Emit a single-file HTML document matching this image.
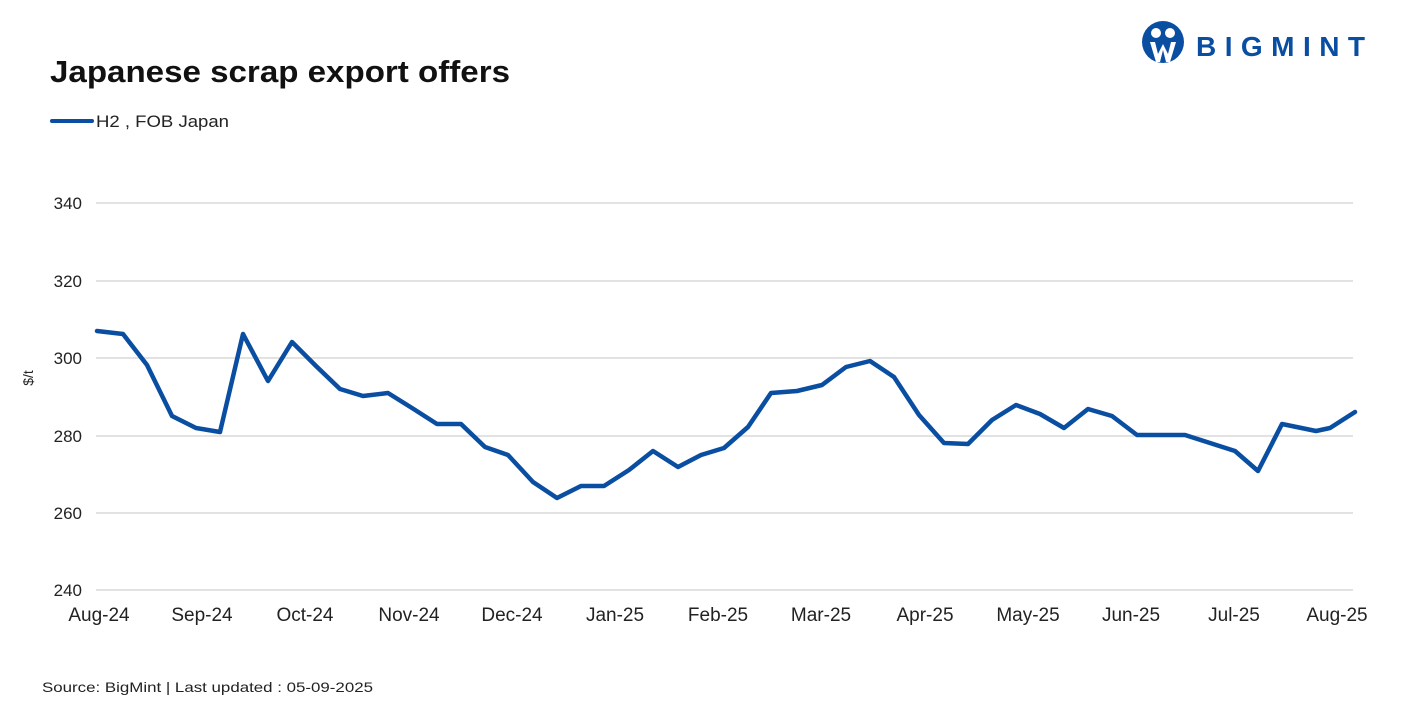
<!DOCTYPE html>
<html><head><meta charset="utf-8"><style>
body{margin:0;background:#fff;}
svg{display:block;font-family:"Liberation Sans",sans-serif;}
</style></head><body>
<svg width="1417" height="708" viewBox="0 0 1417 708">
<text x="50" y="82" font-size="31" font-weight="bold" fill="#111" textLength="460" lengthAdjust="spacingAndGlyphs">Japanese scrap export offers</text>
<line x1="52" y1="121" x2="92" y2="121" stroke="#0a4ea2" stroke-width="4" stroke-linecap="round"/>
<text x="96" y="127" font-size="17" fill="#222" textLength="133" lengthAdjust="spacingAndGlyphs">H2 , FOB Japan</text>
<g stroke="#d9d9d9" stroke-width="1.5">
<line x1="96" y1="203" x2="1353" y2="203"/>
<line x1="96" y1="281" x2="1353" y2="281"/>
<line x1="96" y1="358" x2="1353" y2="358"/>
<line x1="96" y1="436" x2="1353" y2="436"/>
<line x1="96" y1="513" x2="1353" y2="513"/>
<line x1="96" y1="590" x2="1353" y2="590"/>
</g>
<g font-size="17" fill="#222" text-anchor="end">
<text x="82" y="209">340</text><text x="82" y="287">320</text><text x="82" y="364">300</text>
<text x="82" y="442">280</text><text x="82" y="519">260</text><text x="82" y="596">240</text>
</g>
<text transform="translate(33,378) rotate(-90)" font-size="14" fill="#222" text-anchor="middle">$/t</text>
<g font-size="19" fill="#222" text-anchor="middle">
<text x="99" y="621">Aug-24</text><text x="202" y="621">Sep-24</text><text x="305" y="621">Oct-24</text>
<text x="409" y="621">Nov-24</text><text x="512" y="621">Dec-24</text><text x="615" y="621">Jan-25</text>
<text x="718" y="621">Feb-25</text><text x="821" y="621">Mar-25</text><text x="925" y="621">Apr-25</text>
<text x="1028" y="621">May-25</text><text x="1131" y="621">Jun-25</text><text x="1234" y="621">Jul-25</text>
<text x="1337" y="621">Aug-25</text>
</g>
<polyline fill="none" stroke="#0a4ea2" stroke-width="4.5" stroke-linejoin="round" stroke-linecap="round" points="97,331 123,334 147,365 172,416 196,428 220,432 243,334 268,381 292,342 316,366 340,389 363,396 388,393 412,408 437,424 461,424 485,447 508,455 533,482 557,498 581,486 604,486 629,470 653,451 678,467 701,455 724,448 748,427 771,393 797,391 822,385 846,367 870,361 894,377 919,415 944,443 968,444 992,420 1016,405 1040,414 1064,428 1088,409 1112,416 1137,435 1185,435 1235,451 1258,471 1282,424 1316,431 1330,428 1355,412"/>
<text x="42" y="692" font-size="14" fill="#222" textLength="331" lengthAdjust="spacingAndGlyphs">Source: BigMint  | Last updated : 05-09-2025</text>
<g>
<circle cx="1163" cy="42" r="21" fill="#0a4ea2"/>
<circle cx="1156" cy="33" r="5" fill="#fff"/><circle cx="1170" cy="33" r="5" fill="#fff"/>
<path d="M1150 42 L1156 62 L1160 62 L1163 50 L1166 62 L1170 62 L1176 42 L1171 42 L1168 54 L1163 44 L1158 54 L1155 42Z" fill="#fff"/>
<text x="1196" y="56" font-size="28" font-weight="bold" fill="#0a4ea2" textLength="169" lengthAdjust="spacing">BIGMINT</text>
</g>
</svg>
</body></html>
